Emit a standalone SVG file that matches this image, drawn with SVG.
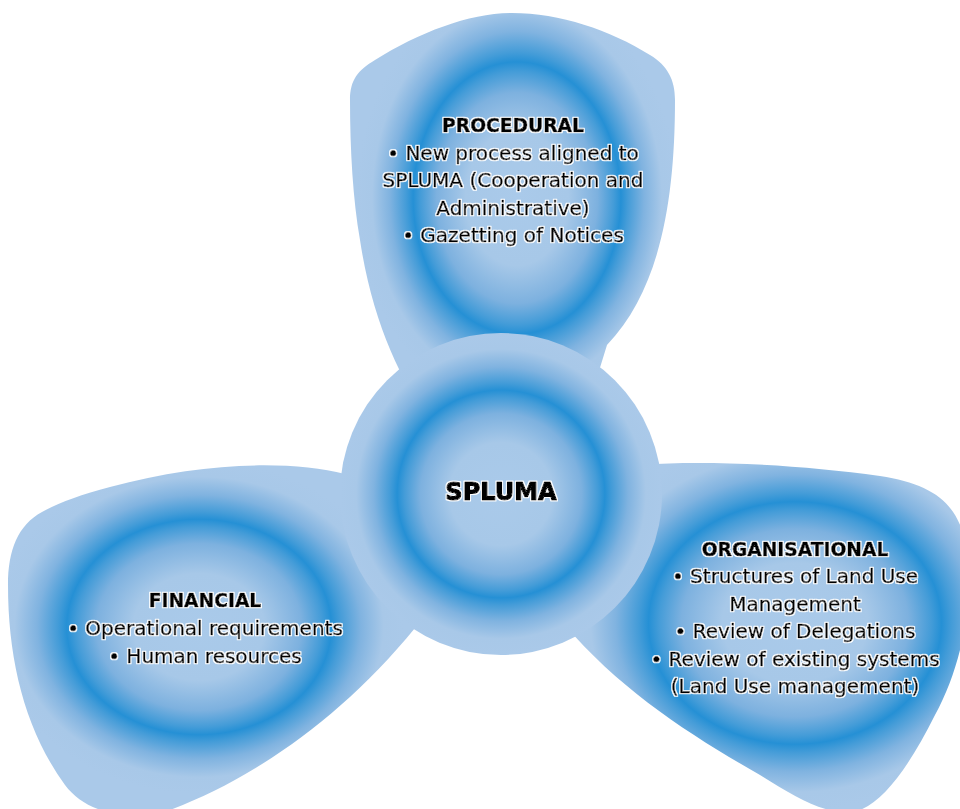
<svg xmlns="http://www.w3.org/2000/svg" width="960" height="809" viewBox="0 0 960 809">
<defs>
<radialGradient id="gBase">
<stop offset="0" stop-color="#aacaea"/>
<stop offset="0.32" stop-color="#a7c8e8"/>
<stop offset="0.5" stop-color="#7db1df"/>
<stop offset="0.6" stop-color="#449cd8"/>
<stop offset="0.645" stop-color="#2590d5"/>
<stop offset="0.69" stop-color="#449cd8"/>
<stop offset="0.79" stop-color="#80b3e0"/>
<stop offset="0.9" stop-color="#a8c8e8"/>
<stop offset="1" stop-color="#aac9e9"/>
</radialGradient>
<radialGradient id="gTop" href="#gBase" gradientUnits="userSpaceOnUse" cx="0" cy="0" r="1" gradientTransform="translate(517 198) scale(161 211)"/>
<radialGradient id="gLeft" href="#gBase" gradientUnits="userSpaceOnUse" cx="0" cy="0" r="1" gradientTransform="translate(199 627) scale(205 167)"/>
<radialGradient id="gRight" href="#gBase" gradientUnits="userSpaceOnUse" cx="0" cy="0" r="1" gradientTransform="translate(795 623) scale(227 188)"/>
<radialGradient id="gCenter" href="#gBase" gradientUnits="userSpaceOnUse" cx="501" cy="494" r="161"/>
<filter id="halo" x="-10%" y="-30%" width="120%" height="160%">
<feMorphology in="SourceAlpha" operator="dilate" radius="1.4" result="d"/>
<feFlood flood-color="#ffffff"/>
<feComposite in2="d" operator="in" result="w"/>
<feMerge><feMergeNode in="w"/><feMergeNode in="SourceGraphic"/></feMerge>
</filter>
</defs>
<style>
text{font-family:"DejaVu Sans","Liberation Sans",sans-serif;fill:#000;stroke:#000;stroke-linejoin:round;text-anchor:middle;filter:url(#halo)}
.b{font-size:20px;stroke-width:0.6}
.h{font-size:18.7px;font-weight:bold;stroke-width:0.7}
.c{font-size:24px;font-weight:bold;stroke-width:1.2}
</style>
<rect width="960" height="809" fill="#fff"/>
<g id="connectors"/>
<g id="node-procedural">
<path fill="url(#gTop)" d="M 430,420 C 400,380 372,320 360,240 C 353,200 350,150 350,100 C 350,80 358,70 375,60 C 420,32 470,13 512,13 C 560,13 610,30 650,55 C 668,66 675,80 675,100 C 675,200 660,290 607,345 L 590,400 Z"/>
<text class="h" x="513" y="132">PROCEDURAL</text>
<text class="b" x="513" y="160">• New process aligned to</text>
<text class="b" x="513" y="187">SPLUMA (Cooperation and</text>
<text class="b" x="513" y="215">Administrative)</text>
<text class="b" x="513" y="242">• Gazetting of Notices</text>
</g>
<g id="node-financial">
<path fill="url(#gLeft)" d="M 400,500 L 345,474 C 290,460 200,462 110,487 C 80,495 58,503 42,512 C 18,525 8,550 8,585 C 8,660 25,730 65,785 C 85,812 125,822 170,810 C 250,780 340,720 415,628 Z"/>
<text class="h" x="205" y="607">FINANCIAL</text>
<text class="b" x="205" y="635">• Operational requirements</text>
<text class="b" x="205" y="663">• Human resources</text>
</g>
<g id="node-organisational">
<path fill="url(#gRight)" d="M 600,500 L 600,470 C 660,458 780,462 880,476 C 930,484 955,500 965,540 C 975,590 965,660 935,715 C 910,765 885,800 860,810 C 830,818 800,800 760,775 C 690,735 620,690 565,625 Z"/>
<text class="h" x="795" y="556">ORGANISATIONAL</text>
<text class="b" x="795" y="583">• Structures of Land Use</text>
<text class="b" x="795" y="611">Management</text>
<text class="b" x="795" y="638">• Review of Delegations</text>
<text class="b" x="795" y="666">• Review of existing systems</text>
<text class="b" x="795" y="693">(Land Use management)</text>
</g>
<g id="node-spluma">
<circle cx="501" cy="494" r="161" fill="url(#gCenter)"/>
<text class="c" x="501" y="500">SPLUMA</text>
</g>
</svg>
